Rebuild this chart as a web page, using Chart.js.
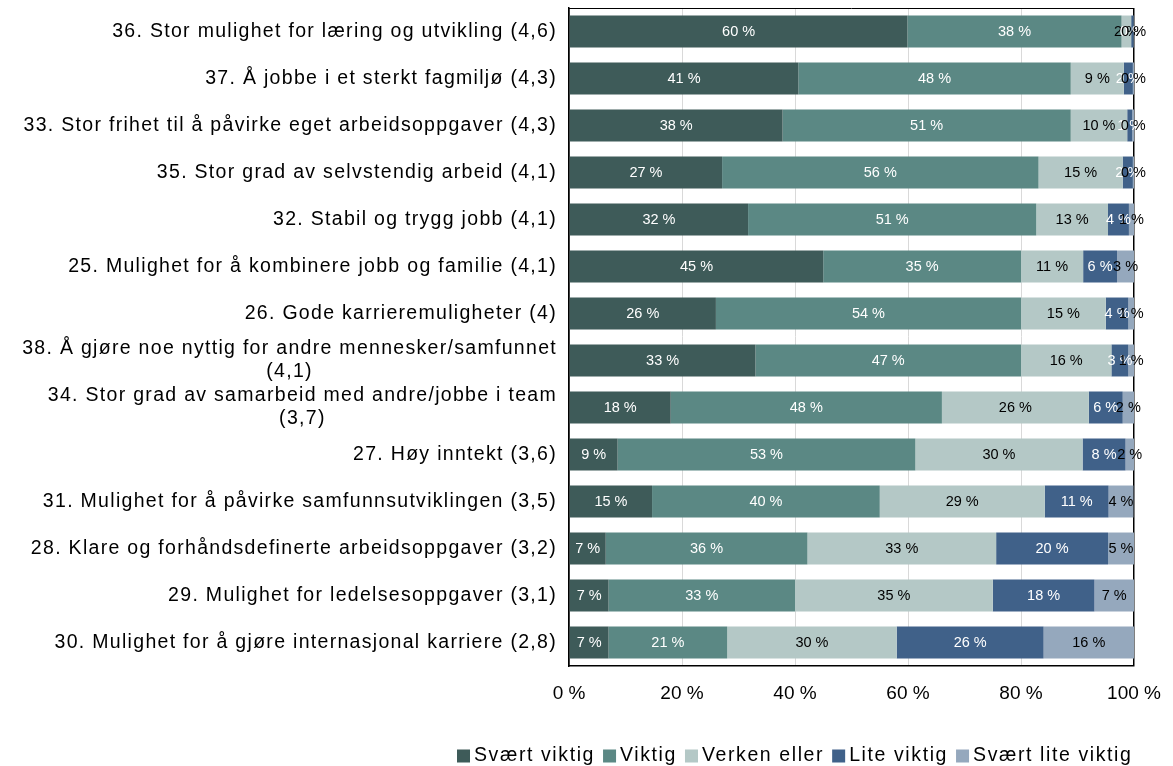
<!DOCTYPE html>
<html>
<head>
<meta charset="utf-8">
<script src="https://cdn.jsdelivr.net/npm/chart.js@4/dist/chart.umd.min.js"></script>
<style>
  html, body { margin: 0; padding: 0; background: #fff; }
  #wrap { width: 1173px; height: 766px; position: relative; }
</style>
</head>
<body>
<div id="wrap"><canvas id="chart"></canvas></div>
<script>
// Categories (top to bottom)
const categories = [
    '36. Stor mulighet for læring og utvikling (4,6)',
    '37. Å jobbe i et sterkt fagmiljø (4,3)',
    '33. Stor frihet til å påvirke eget arbeidsoppgaver (4,3)',
    '35. Stor grad av selvstendig arbeid (4,1)',
    '32. Stabil og trygg jobb (4,1)',
    '25. Mulighet for å kombinere jobb og familie (4,1)',
    '26. Gode karrieremuligheter (4)',
    ['38. Å gjøre noe nyttig for andre mennesker/samfunnet', '(4,1)'],
    ['34. Stor grad av samarbeid med andre/jobbe i team', '(3,7)'],
    '27. Høy inntekt (3,6)',
    '31. Mulighet for å påvirke samfunnsutviklingen (3,5)',
    '28. Klare og forhåndsdefinerte arbeidsoppgaver (3,2)',
    '29. Mulighet for ledelsesoppgaver (3,1)',
    '30. Mulighet for å gjøre internasjonal karriere (2,8)',
];

// Shares in percent per answer
const sværtViktig = [59.9, 40.6, 37.8, 27.1, 31.7, 45, 26, 33, 18, 8.6, 14.7, 6.5, 7, 7];
const viktig = [37.9, 48.2, 51.0, 56.0, 51.0, 35, 54, 47, 48, 52.7, 40.3, 35.7, 33, 21];
const verkenEller = [1.7, 9.4, 10.0, 14.9, 12.7, 11, 15, 16, 26, 29.6, 29.2, 33.4, 35, 30];
const liteViktig = [0.4, 1.6, 0.9, 1.8, 3.7, 6, 4, 3, 6, 7.6, 11.3, 19.8, 18, 26];
const sværtLiteViktig = [0.1, 0.2, 0.3, 0.2, 0.9, 3, 1, 1, 2, 1.5, 4.4, 4.6, 7, 16];

const seriesNames = ['Svært viktig', 'Viktig', 'Verken eller', 'Lite viktig', 'Svært lite viktig'];
const seriesColors = ['#3e5b59', '#5b8884', '#b4c8c6', '#406189', '#95a8bd'];
const labelColors = ['#ffffff', '#ffffff', '#000000', '#ffffff', '#000000'];
const xTicks = [0, 20, 40, 60, 80, 100];

const FONT = 'Liberation Sans';

// value labels in the middle of each segment
const valueLabels = {
    id: 'valueLabels',
    afterDatasetsDraw(chart) {
        const ctx = chart.ctx;
        ctx.save();
        ctx.font = '14.5px ' + FONT;
        ctx.textAlign = 'center';
        ctx.textBaseline = 'middle';
        chart.data.datasets.forEach((ds, i) => {
            const meta = chart.getDatasetMeta(i);
            meta.data.forEach((bar, j) => {
                ctx.fillStyle = labelColors[i];
                ctx.fillText(Math.round(ds.data[j]) + ' %', (bar.x + bar.base) / 2, bar.y);
            });
        });
        ctx.restore();
    },
};

// category labels (wide tracking), top frame line and legend
const extras = {
    id: 'extras',
    afterDraw(chart) {
        const ctx = chart.ctx;
        const a = chart.chartArea;
        const yScale = chart.scales.y;
        ctx.save();

        ctx.strokeStyle = '#000';
        ctx.lineWidth = 1;
        ctx.beginPath();
        ctx.moveTo(a.left, a.top + 0.5);
        ctx.lineTo(a.right, a.top + 0.5);
        ctx.stroke();

        ctx.fillStyle = '#000';
        ctx.font = '19.5px ' + FONT;
        ctx.letterSpacing = '1.3px';
        ctx.textBaseline = 'middle';
        const right = a.left - 12;
        categories.forEach((lab, i) => {
            const y = yScale.getPixelForTick(i);
            const lines = Array.isArray(lab) ? lab : [lab];
            const lh = 23;
            if (lines.length === 1) {
                ctx.textAlign = 'right';
                ctx.fillText(lines[0], right, y);
            } else {
                const w = Math.max(...lines.map(l => ctx.measureText(l).width));
                ctx.textAlign = 'center';
                lines.forEach((l, k) => {
                    ctx.fillText(l, right - w / 2, y + (k - (lines.length - 1) / 2) * lh);
                });
            }
        });

        // legend
        ctx.textAlign = 'left';
        ctx.letterSpacing = '1.6px';
        let x = 457;
        const ly = 756;
        seriesNames.forEach((name, i) => {
            ctx.fillStyle = seriesColors[i];
            ctx.fillRect(x, ly - 6.5, 13, 13);
            ctx.fillStyle = '#000';
            ctx.fillText(name, x + 17, ly);
            x += 17 + ctx.measureText(name).width + 8;
        });
        ctx.restore();
    },
};

const datasets = [sværtViktig, viktig, verkenEller, liteViktig, sværtLiteViktig].map((data, i) => ({
    label: seriesNames[i],
    data: data,
    backgroundColor: seriesColors[i],
    borderWidth: 0,
    barPercentage: 0.68,
    categoryPercentage: 1,
}));

function createChart() {
    const ctx = document.getElementById('chart').getContext('2d');
    new Chart(ctx, {
        type: 'bar',
        data: { labels: categories, datasets: datasets },
        options: {
            indexAxis: 'y',
            responsive: true,
            maintainAspectRatio: false,
            animation: false,
            layout: { padding: { top: 8, right: 39, left: 0, bottom: 0 } },
            scales: {
                x: {
                    stacked: true,
                    min: 0,
                    max: 100,
                    afterBuildTicks(scale) {
                        scale.ticks = xTicks.map(v => ({ value: v }));
                    },
                    afterFit(scale) {
                        scale.height = 100;
                        scale.paddingLeft = 0;
                        scale.paddingRight = 0;
                    },
                    grid: {
                        drawTicks: false,
                        color: c => (c.tick && (c.tick.value === 0 || c.tick.value === 100)) ? '#000' : '#d9d9d9',
                        lineWidth: c => (c.tick && (c.tick.value === 0 || c.tick.value === 100)) ? 1.5 : 1,
                    },
                    border: { color: '#000', width: 1.5 },
                    ticks: {
                        color: '#000',
                        padding: 16,
                        maxRotation: 0,
                        font: { family: FONT, size: 19 },
                        callback: v => v + ' %',
                    },
                },
                y: {
                    stacked: true,
                    afterFit(scale) { scale.width = 569; },
                    grid: { display: false, drawTicks: false },
                    border: { color: '#000', width: 1.5 },
                    ticks: { display: false },
                },
            },
            plugins: {
                tooltip: { enabled: false },
                legend: { display: false },
            },
        },
        plugins: [valueLabels, extras],
    });
}

document.addEventListener('DOMContentLoaded', createChart);
</script>
</body>
</html>
